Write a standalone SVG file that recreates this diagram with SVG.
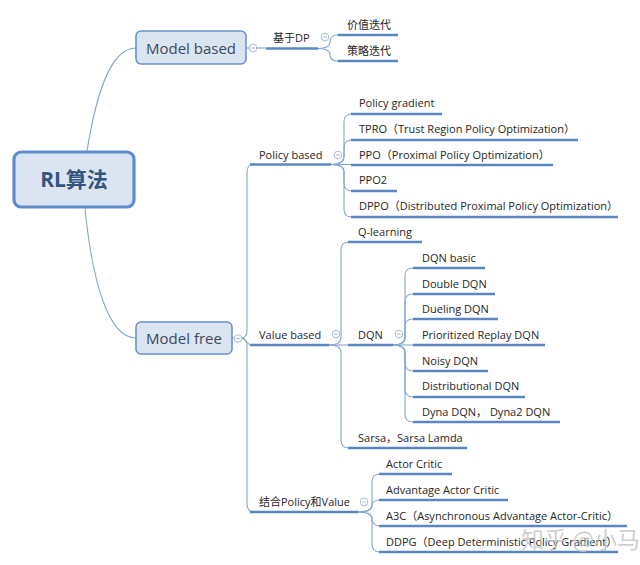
<svg xmlns="http://www.w3.org/2000/svg" width="640" height="565" viewBox="0 0 640 565">
<style>
text{font-family:"Open Sans","Noto Sans CJK SC",sans-serif;fill:#262626}
.leaf{font-size:11px}
.main{font-size:15px;fill:#3a4860;text-anchor:middle}
.root{font-size:21px;font-weight:bold;fill:#34547f;text-anchor:middle}
.box{fill:#dbe5f2;stroke:#6a93c9;stroke-width:1.6}
.ul{stroke:#5a87c2;stroke-width:2.6;fill:none;stroke-linecap:butt}
.th{stroke:#86a6d2;stroke-width:1.1;fill:none}
</style>
<defs>
<g id="minus"><circle r="3.8" fill="#ffffff" stroke="#a8b9d3" stroke-width="1"/><line x1="-2" y1="0" x2="2" y2="0" stroke="#a8b9d3" stroke-width="1"/></g>
</defs>
<rect width="640" height="565" fill="#fff"/>
<g id="connectors">
<path class="th" d="M87,151 C96,95 110,48 136,48"/>
<path class="th" d="M85,208 C92,280 108,338 136,338"/>
<path class="th" d="M246,48 H266"/>
<path class="th" d="M318,48.5 Q330,48.5 330,42 Q330,35 338,35"/>
<path class="th" d="M318,48.5 Q330,48.5 330,55 Q330,61 338,61"/>
<path class="th" d="M232,338 H241"/>
<path class="th" d="M241,338 Q247,338 247,330 V172 Q247,164 255,164"/>
<path class="th" d="M241,338 C246,338 246,345 252,345"/>
<path class="th" d="M241,338 Q247,338 247,346 V504 Q247,512 255,512"/>
<path class="th" d="M331,164.5 Q344,164.5 344,156 V122 Q344,114 352,114"/>
<path class="th" d="M331,164.5 Q344,164.5 344,156 V148 Q344,140 352,140"/>
<path class="th" d="M331,164.5 H352"/>
<path class="th" d="M331,164.5 Q344,164.5 344,172 V183 Q344,191 352,191"/>
<path class="th" d="M331,164.5 Q344,164.5 344,172 V209 Q344,217 352,217"/>
<path class="th" d="M329,345 Q341,345 341,337 V250 Q341,242 349,242"/>
<path class="th" d="M329,345 H349"/>
<path class="th" d="M329,345 Q341,345 341,353 V440 Q341,448 349,448"/>
<path class="th" d="M393,345 Q405,345 405,337 V276 Q405,268 413,268"/>
<path class="th" d="M393,345 Q405,345 405,337 V302 Q405,294 413,294"/>
<path class="th" d="M393,345 Q405,345 405,337 V327 Q405,319 413,319"/>
<path class="th" d="M393,345 H413"/>
<path class="th" d="M393,345 Q405,345 405,353 V363 Q405,371 413,371"/>
<path class="th" d="M393,345 Q405,345 405,353 V389 Q405,397 413,397"/>
<path class="th" d="M393,345 Q405,345 405,353 V414 Q405,422 413,422"/>
<path class="th" d="M358,512 Q372,512 372,504 V482 Q372,474 380,474"/>
<path class="th" d="M358,512 Q372,512 372,506 Q372,500 380,500"/>
<path class="th" d="M358,512 Q372,512 372,518 Q372,526 380,526"/>
<path class="th" d="M358,512 Q372,512 372,520 V544 Q372,552 380,552"/>
</g>
<g id="root"><rect x="14" y="152" width="120" height="55" rx="7" fill="#dbe5f2" stroke="#5f8dcb" stroke-width="3.2"/><text class="root" x="74" y="187">RL算法</text></g>
<g id="model-based"><rect class="box" x="136" y="31" width="110" height="33" rx="5"/><text class="main" x="191" y="53.5">Model based</text></g>
<g id="model-free"><rect class="box" x="136" y="322" width="96" height="32" rx="5"/><text class="main" x="184" y="343.5">Model free</text></g>
<g id="dp"><path class="ul" d="M266,48.5 H318"/><text class="leaf" x="273" y="42">基于DP</text></g>
<g id="value-iter"><path class="ul" d="M338,35 H398"/><text class="leaf" x="347" y="28.5">价值迭代</text></g>
<g id="policy-iter"><path class="ul" d="M338,61 H398"/><text class="leaf" x="347" y="54.5">策略迭代</text></g>
<g id="policy-based"><path class="ul" d="M250,164.5 H331"/><text class="leaf" x="259" y="158.5">Policy based</text></g>
<g id="value-based"><path class="ul" d="M250,345 H329"/><text class="leaf" x="259" y="339">Value based</text></g>
<g id="combine"><path class="ul" d="M250,512 H358"/><text class="leaf" x="259" y="506">结合Policy和Value</text></g>
<g id="pg"><path class="ul" d="M351,114 H442"/><text class="leaf" x="359" y="107">Policy gradient</text></g>
<g id="tpro"><path class="ul" d="M351,140 H578"/><text class="leaf" x="359" y="133">TPRO（Trust Region Policy Optimization）</text></g>
<g id="ppo"><path class="ul" d="M351,165 H553"/><text class="leaf" x="359" y="158.5">PPO（Proximal Policy Optimization）</text></g>
<g id="ppo2"><path class="ul" d="M351,191 H397"/><text class="leaf" x="359" y="184">PPO2</text></g>
<g id="dppo"><path class="ul" d="M351,217 H618"/><text class="leaf" x="359" y="210">DPPO（Distributed Proximal Policy Optimization）</text></g>
<g id="qlearning"><path class="ul" d="M348,242 H422"/><text class="leaf" x="358" y="235.5">Q-learning</text></g>
<g id="dqn"><path class="ul" d="M348,345 H393"/><text class="leaf" x="358" y="339">DQN</text></g>
<g id="sarsa"><path class="ul" d="M348,448 H467"/><text class="leaf" x="358" y="441.5">Sarsa，Sarsa Lamda</text></g>
<g id="dqn-basic"><path class="ul" d="M413,268 H485"/><text class="leaf" x="422" y="261.5">DQN basic</text></g>
<g id="double-dqn"><path class="ul" d="M413,294 H495"/><text class="leaf" x="422" y="287.5">Double DQN</text></g>
<g id="dueling-dqn"><path class="ul" d="M413,319 H498"/><text class="leaf" x="422" y="312.5">Dueling DQN</text></g>
<g id="prior-dqn"><path class="ul" d="M413,345 H545"/><text class="leaf" x="422" y="339">Prioritized Replay DQN</text></g>
<g id="noisy-dqn"><path class="ul" d="M413,371 H488"/><text class="leaf" x="422" y="364.5">Noisy DQN</text></g>
<g id="dist-dqn"><path class="ul" d="M413,397 H525"/><text class="leaf" x="422" y="390">Distributional DQN</text></g>
<g id="dyna-dqn"><path class="ul" d="M413,422 H560"/><text class="leaf" x="422" y="415.5">Dyna DQN， Dyna2 DQN</text></g>
<g id="ac"><path class="ul" d="M379,474 H452"/><text class="leaf" x="386" y="467.5">Actor Critic</text></g>
<g id="a2c"><path class="ul" d="M379,500 H508"/><text class="leaf" x="386" y="493.5">Advantage Actor Critic</text></g>
<g id="a3c"><path class="ul" d="M379,526 H627"/><text class="leaf" x="386" y="519.5">A3C（Asynchronous Advantage Actor-Critic）</text></g>
<g id="ddpg"><path class="ul" d="M379,552 H618"/><text class="leaf" x="386" y="545.5">DDPG（Deep Deterministic Policy Gradient）</text></g>
<g id="toggles">
<use href="#minus" x="253" y="48"/>
<use href="#minus" x="325" y="37"/>
<use href="#minus" x="238" y="338.5"/>
<use href="#minus" x="338" y="155"/>
<use href="#minus" x="336" y="334"/>
<use href="#minus" x="399" y="334"/>
<use href="#minus" x="364" y="502"/>
</g>
<text x="521" y="548" style="font-family:'Noto Sans CJK SC',sans-serif;font-size:23px;fill:#c4c4c4;fill-opacity:0.8">知乎 @小马</text>
</svg>
